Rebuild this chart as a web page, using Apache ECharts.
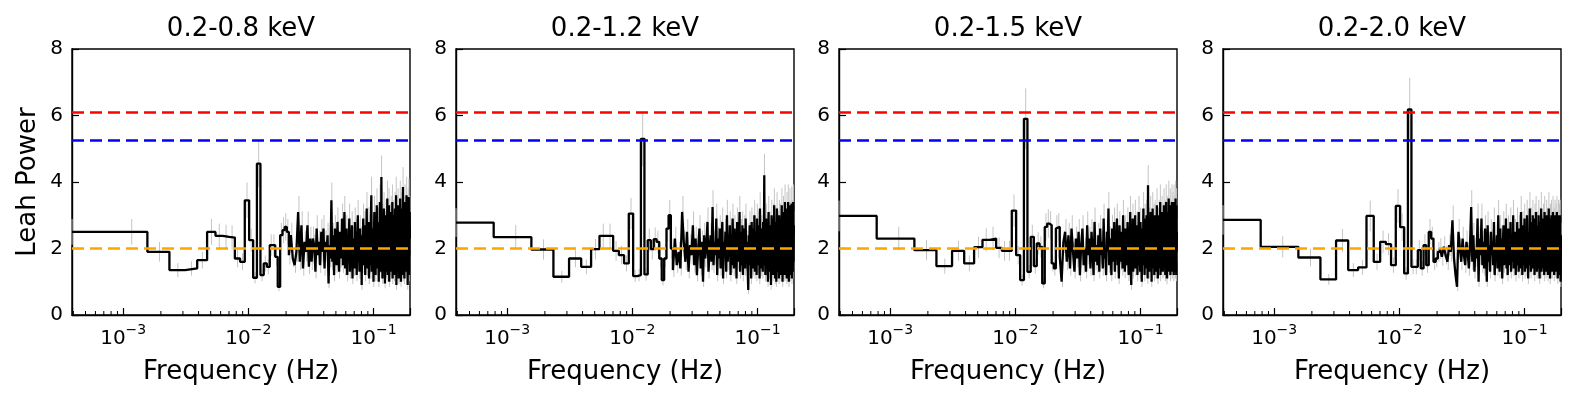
<!DOCTYPE html>
<html>
<head>
<meta charset="utf-8">
<script src="https://cdn.jsdelivr.net/npm/echarts@6/dist/echarts.min.js"></script>
<style>
  html, body { margin: 0; padding: 0; background: #fff; }
  #chart { width: 1577px; height: 398px; }
</style>
</head>
<body>
<div id="chart"></div>
<script>
"use strict";

// energy bands (one panel each)
var bands = ['0.2-0.8 keV', '0.2-1.2 keV', '0.2-1.5 keV', '0.2-2.0 keV'];

// Leahy power per frequency bin, bin k sits at (k + 0.5) * df
var power08 = [
  2.5, 2.5, 1.9, 1.35, 1.4, 1.65, 2.5, 2.38, 2.35, 2.33,
  1.7, 1.6, 3.45, 2.25, 1.12, 4.55, 1.2, 1.55, 1.45, 2.1,
  2.1, 1.75, 0.85, 2.4, 2.55, 2.65, 2.5, 1.8, 2.4, 1.7,
  1.5, 1.9, 3.1, 1.6, 2.7, 1.4, 2.2, 1.9, 2.7, 1.45,
  2.3, 1.6, 2.3, 2.1, 1.3, 2.6, 1.8, 2.2, 1.5, 2.5,
  1.9, 2.6, 1.4, 2.2, 1.9, 2.4, 0.95, 2.1, 1.7, 3.45,
  1.6, 2.4, 1.2, 2.6, 2.0, 1.5, 2.8, 1.9, 1.3, 2.5,
  2.2, 1.7, 2.9, 1.5, 2.3, 3.1, 1.4, 2.0, 2.6, 1.2,
  2.4, 1.8, 2.9, 1.3, 2.2, 1.6, 2.7, 1.1, 2.3, 2.0,
  1.4, 2.8, 1.9, 2.5, 1.2, 2.1, 3.0, 1.6, 2.2, 1.3,
  2.6, 1.8, 2.3, 0.9, 2.4, 1.7, 2.9, 1.5, 2.0, 2.7,
  1.2, 2.5, 1.9, 3.2, 1.4, 2.2, 1.6, 2.8, 1.1, 2.4,
  2.0, 1.5, 2.9, 3.6, 1.3, 2.3, 1.8, 2.6, 1.0, 2.2,
  3.1, 1.6, 2.4, 1.2, 2.7, 1.9, 3.3, 1.4, 2.1, 1.7,
  2.8, 1.0, 2.5, 1.8, 3.4, 1.5, 2.2, 1.3, 4.15, 1.7,
  2.6, 1.1, 2.9, 2.0, 1.4, 3.2, 1.6, 2.3, 0.95, 2.7,
  1.9, 3.0, 1.3, 2.4, 1.7, 3.5, 1.2, 2.1, 2.6, 1.5,
  3.3, 1.0, 2.2, 1.8, 2.9, 1.4, 2.5, 3.1, 1.3, 2.0,
  1.6, 3.4, 1.1, 2.3, 2.7, 1.5, 3.0, 1.9, 1.2, 2.6,
  3.2, 1.4, 2.1, 1.7, 3.6, 0.9, 2.4, 1.8, 2.8, 1.3,
  2.2, 3.3, 1.5, 2.6, 1.1, 3.0, 1.9, 2.3, 1.4, 3.5,
  1.7, 2.5, 1.0, 2.9, 2.1, 1.5, 3.2, 1.3, 2.4, 1.8,
  3.85, 1.2, 2.7, 1.6, 3.1, 2.0, 1.1, 2.6, 3.4, 1.5,
  2.2, 1.8, 3.0, 1.3, 2.5, 3.6, 1.4, 2.1, 1.7, 2.9,
  0.9, 2.4, 3.3, 1.6, 2.0, 3.55, 1.2, 2.7, 1.8, 3.1,
  2.3
];
var power12 = [
  2.78, 2.34, 1.97, 1.15, 1.7, 1.45, 1.98, 2.38, 2.38, 1.93,
  1.8, 1.55, 3.05, 1.17, 1.2, 5.3, 1.22, 2.25, 1.98, 2.28,
  2.2, 1.7, 1.05, 1.7, 2.6, 3.0, 2.0, 1.35, 2.3, 1.5,
  1.9, 1.4, 3.1, 2.2, 1.6, 2.5, 1.3, 2.1, 1.8, 2.7,
  1.5, 2.3, 1.2, 2.0, 2.6, 1.4, 2.2, 1.0, 2.4, 1.7,
  2.1, 2.8, 1.3, 1.9, 2.4, 1.6, 3.25, 1.5, 2.2, 1.8,
  2.9, 1.2, 2.3, 1.7, 2.6, 1.4, 2.0, 2.8, 1.1, 2.2,
  1.8, 2.5, 1.3, 3.0, 1.6, 2.1, 1.9, 2.7, 1.2, 2.4,
  1.5, 2.9, 2.0, 1.4, 2.6, 1.8, 2.2, 1.1, 2.8, 1.6,
  2.3, 1.9, 3.1, 1.3, 2.0, 2.5, 1.5, 2.7, 1.2, 2.1,
  1.8, 2.6, 1.4, 2.9, 1.6, 2.2, 1.9, 1.3, 0.75, 2.4,
  2.0, 2.7, 1.5, 2.3, 1.1, 2.8, 1.7, 2.1, 1.4, 2.6,
  1.9, 3.0, 1.3, 2.2, 1.6, 2.5, 1.2, 2.9, 1.8, 2.0,
  1.5, 2.7, 2.3, 1.1, 3.2, 1.7, 2.0, 1.4, 2.6, 1.9,
  2.4, 1.3, 2.8, 1.6, 2.2, 4.2, 1.5, 2.5, 1.2, 2.0,
  2.9, 1.4, 2.1, 1.8, 2.6, 1.0, 2.3, 3.1, 1.6, 2.0,
  1.3, 2.7, 1.9, 2.4, 0.9, 2.2, 3.0, 1.5, 1.8, 2.5,
  1.2, 2.9, 2.0, 1.6, 3.3, 1.4, 2.3, 1.1, 2.6, 1.9,
  2.8, 1.0, 2.1, 3.2, 1.5, 2.4, 1.3, 2.7, 1.8, 2.2,
  1.1, 3.0, 1.7, 2.5, 1.4, 2.9, 1.9, 1.2, 2.6, 2.0,
  3.3, 1.5, 2.2, 1.0, 2.8, 1.7, 3.1, 1.3, 2.4, 1.9,
  2.6, 1.2, 3.4, 1.6, 2.1, 1.4, 2.9, 1.8, 2.3, 1.1,
  3.2, 1.5, 2.7, 1.9, 1.2, 3.4, 1.6, 2.2, 1.0, 2.8,
  2.0, 1.4, 3.3, 1.7, 2.5, 1.2, 3.0, 1.8, 2.3, 1.5,
  3.35, 1.1, 2.6, 1.9, 3.0, 1.3, 2.4, 3.4, 1.6, 2.1,
  2.7
];
var power15 = [
  2.98, 2.3, 1.95, 1.47, 1.93, 1.55, 2.04, 2.26, 2.3, 2.02,
  1.93, 1.93, 3.14, 1.8, 1.05, 5.9, 1.3, 2.35, 1.47, 2.15,
  2.05, 0.95, 2.65, 2.75, 2.7, 1.55, 1.4, 2.6, 2.65, 1.75,
  1.0, 2.2, 2.5, 1.6, 2.4, 1.4, 2.6, 1.9, 1.3, 2.3,
  1.7, 2.5, 1.2, 2.1, 2.6, 1.5, 2.0, 1.3, 2.7, 1.8,
  2.3, 1.4, 2.5, 1.9, 1.2, 2.8, 1.6, 2.1, 1.5, 2.4,
  1.3, 2.6, 1.8, 2.2, 1.4, 2.9, 1.7, 2.0, 1.2, 2.5,
  1.9, 3.2, 1.5, 2.3, 1.8, 1.2, 2.6, 2.0, 1.6, 2.8,
  1.3, 2.4, 1.9, 2.9, 1.5, 2.2, 1.1, 2.7, 1.8, 2.3,
  1.6, 2.5, 1.4, 3.0, 1.9, 2.1, 1.3, 2.6, 1.7, 2.4,
  1.5, 2.8, 2.0, 1.2, 2.5, 1.8, 3.1, 1.4, 0.9, 2.3,
  1.7, 2.9, 1.3, 2.4, 2.0, 1.6, 3.0, 1.4, 2.2, 1.8,
  2.7, 1.2, 2.5, 1.9, 3.1, 1.5, 2.1, 1.3, 2.8, 1.7,
  2.3, 1.0, 2.6, 2.0, 1.5, 3.2, 1.8, 2.4, 1.2, 2.9,
  1.6, 2.2, 1.4, 3.0, 1.9, 2.5, 1.1, 3.9, 1.7, 2.3,
  1.3, 2.8, 2.0, 1.5, 3.1, 1.8, 2.4, 1.0, 2.6, 1.9,
  3.2, 1.4, 2.2, 1.7, 2.9, 1.2, 2.5, 3.0, 1.6, 2.1,
  1.3, 2.7, 1.9, 3.3, 1.5, 2.3, 1.1, 2.8, 2.0, 1.6,
  3.0, 1.4, 2.4, 1.8, 3.4, 1.2, 2.6, 1.9, 2.2, 1.5,
  3.1, 1.7, 2.5, 1.3, 2.9, 2.0, 1.6, 3.3, 1.4, 2.3,
  1.9, 3.0, 1.2, 2.6, 1.8, 3.4, 1.5, 2.2, 1.1, 2.8,
  2.0, 3.1, 1.6, 2.4, 1.3, 3.5, 1.8, 2.1, 1.4, 2.9,
  1.7, 3.3, 1.2, 2.5, 1.9, 3.0, 1.5, 2.3, 3.4, 1.3,
  2.6, 1.8, 3.2, 1.4, 2.1, 2.8, 1.2, 3.4, 1.7, 2.4,
  1.5, 3.1, 2.0, 1.3, 3.5, 1.8, 2.6, 1.2, 3.3, 1.9,
  2.5
];
var power20 = [
  2.86, 2.05, 1.73, 1.07, 2.24, 1.35, 1.43, 2.98, 1.6, 2.2,
  2.13, 1.5, 3.28, 2.64, 1.25, 6.18, 1.45, 1.45, 1.95, 1.4,
  2.1, 1.5, 2.5, 2.3, 1.6, 1.7, 1.9, 2.0, 1.75, 2.05,
  1.8, 1.6, 2.1, 1.9, 2.85, 1.7, 1.2, 0.85, 2.5, 2.0,
  1.6, 2.3, 1.8, 1.5, 2.2, 1.9, 1.4, 2.1, 3.25, 1.6,
  2.4, 1.3, 2.0, 1.7, 2.9, 1.0, 2.3, 1.8, 2.9, 1.5,
  2.2, 1.4, 2.6, 1.9, 1.0, 2.7, 1.6, 2.1, 1.3, 2.5,
  1.8, 2.2, 1.5, 2.8, 1.2, 2.0, 1.7, 2.4, 1.4, 3.0,
  1.9, 1.3, 2.6, 1.6, 2.3, 1.1, 2.1, 2.7, 1.5, 2.0,
  1.7, 2.9, 1.4, 2.2, 1.2, 2.6, 1.8, 2.0, 1.5, 2.8,
  1.3, 2.4, 1.9, 1.6, 3.0, 1.4, 2.1, 1.8, 2.5, 1.2,
  2.3, 1.7, 2.8, 1.5, 2.0, 1.3, 2.6, 1.9, 2.2, 1.4,
  3.1, 1.6, 2.4, 1.2, 2.7, 1.8, 2.0, 1.5, 2.9, 1.3,
  2.2, 1.9, 2.6, 1.4, 3.0, 1.7, 2.3, 1.1, 2.5, 1.8,
  2.0, 3.2, 1.5, 2.4, 1.3, 2.8, 1.9, 2.1, 1.6, 3.0,
  1.4, 2.5, 1.8, 2.2, 1.2, 2.9, 1.7, 2.0, 3.1, 1.5,
  2.3, 1.3, 2.7, 1.9, 2.1, 1.4, 3.0, 1.6, 2.4, 1.1,
  2.8, 1.8, 2.2, 1.5, 3.2, 1.3, 2.0, 2.6, 1.7, 2.3,
  1.4, 2.9, 1.9, 2.1, 1.2, 3.1, 1.6, 2.4, 1.8, 2.7,
  1.3, 2.2, 3.0, 1.5, 2.0, 1.7, 2.8, 1.2, 2.5, 1.9,
  3.2, 1.4, 2.3, 1.8, 2.6, 1.1, 2.9, 1.6, 2.1, 1.5,
  3.0, 1.9, 2.4, 1.3, 2.7, 1.7, 3.1, 1.5, 2.2, 1.8,
  2.8, 1.2, 2.5, 1.9, 3.0, 1.4, 2.1, 1.7, 2.9, 1.3,
  2.4, 1.8, 3.1, 1.5, 2.2, 2.7, 1.1, 2.6, 1.9, 3.0,
  1.4, 2.3, 1.7, 2.9, 1.2, 2.5, 3.0, 1.6, 2.1, 1.0,
  2.4
];
var powers = [power08, power12, power15, power20];

var df = 7.8e-4;           // frequency resolution (Hz)
var relErr = 0.155;        // 1-sigma error bar as a fraction of the power

// significance levels: 3 sigma, 2 sigma, noise level
var levels = [6.11, 5.27, 2.0];
var levelColors = ['#ff0000', '#0000ff', '#ffa500'];

var yTicks = [0, 2, 4, 6, 8];
var minorTicks = [
  4e-4, 5e-4, 6e-4, 7e-4, 8e-4, 9e-4,
  2e-3, 3e-3, 4e-3, 5e-3, 6e-3, 7e-3, 8e-3, 9e-3,
  2e-2, 3e-2, 4e-2, 5e-2, 6e-2, 7e-2, 8e-2, 9e-2
];

var FONT = 'DejaVu Sans';
var gridLeft = [72, 456, 839, 1223];
var gridTop = 49, gridW = 338, gridH = 266;

function freq(k) { return (k + 0.5) * df; }

// matplotlib-like steps-mid: level changes halfway between bins
function stepPoints(vals) {
  var pts = [];
  var n = vals.length;
  for (var k = 0; k < n; k++) {
    var lo = k === 0 ? freq(0) : k * df;
    var hi = k === n - 1 ? freq(n - 1) : (k + 1) * df;
    pts.push([lo, vals[k]], [hi, vals[k]]);
  }
  return pts;
}

function supLabel(v) {
  var lg = Math.log10(v);
  var e = Math.round(lg);
  if (Math.abs(lg - e) > 1e-6) return '';
  return '{b|10}{s|\u2212' + Math.abs(e) + '}';
}

var chart = echarts.init(document.getElementById('chart'));

var grids = [], xAxes = [], yAxes = [], titles = [], series = [];

bands.forEach(function (band, i) {
  var vals = powers[i];
  var n = vals.length;

  grids.push({
    left: gridLeft[i], top: gridTop, width: gridW, height: gridH,
    show: true, borderColor: '#000', borderWidth: 1.4, backgroundColor: 'transparent'
  });

  titles.push({
    text: band,
    left: gridLeft[i] + gridW / 2,
    top: 16,
    textAlign: 'center',
    padding: 0,
    textStyle: { fontFamily: FONT, fontSize: 26, fontWeight: 'normal', color: '#000' }
  });

  xAxes.push({
    type: 'log', logBase: 10, gridIndex: i,
    min: freq(0), max: freq(n - 1),
    name: 'Frequency (Hz)', nameLocation: 'middle', nameGap: 44,
    nameTextStyle: { fontFamily: FONT, fontSize: 26, color: '#000' },
    axisLine: { show: true, lineStyle: { color: '#000', width: 1.4 } },
    axisTick: { show: true, inside: true, length: 7, lineStyle: { color: '#000', width: 1.2 } },
    splitLine: { show: false },
    axisLabel: {
      margin: 8, color: '#000', fontFamily: FONT,
      formatter: supLabel,
      rich: {
        b: { fontFamily: FONT, fontSize: 20, color: '#000', lineHeight: 26, verticalAlign: 'bottom' },
        s: { fontFamily: FONT, fontSize: 14, color: '#000', lineHeight: 15, verticalAlign: 'top' }
      }
    }
  });

  yAxes.push({
    type: 'value', gridIndex: i,
    min: yTicks[0], max: yTicks[yTicks.length - 1], interval: 2,
    name: i === 0 ? 'Leah Power' : '',
    nameLocation: 'middle', nameGap: 31,
    nameTextStyle: { fontFamily: FONT, fontSize: 26, color: '#000' },
    axisLine: { show: true, lineStyle: { color: '#000', width: 1.4 } },
    axisTick: { show: true, inside: true, length: 7, lineStyle: { color: '#000', width: 1.2 } },
    splitLine: { show: false },
    axisLabel: { margin: 9, fontFamily: FONT, fontSize: 20, color: '#000' }
  });

  // dashed significance levels
  series.push({
    type: 'line', xAxisIndex: i, yAxisIndex: i, data: [], z: 1,
    markLine: {
      silent: true, symbol: 'none', label: { show: false }, animation: false,
      data: levels.map(function (lv, j) {
        return { yAxis: lv, lineStyle: { color: levelColors[j], width: 2.5, type: [12, 6] } };
      })
    }
  });

  // error bars
  series.push({
    type: 'custom', xAxisIndex: i, yAxisIndex: i, z: 2, silent: true,
    data: vals.map(function (v, k) { return [freq(k), v, v * relErr]; }),
    encode: { x: 0, y: 1 },
    renderItem: function (params, api) {
      var a = api.coord([api.value(0), api.value(1) - api.value(2)]);
      var b = api.coord([api.value(0), api.value(1) + api.value(2)]);
      return {
        type: 'line',
        shape: { x1: a[0], y1: a[1], x2: b[0], y2: b[1] },
        style: { stroke: '#c4c4c4', lineWidth: 1 }
      };
    }
  });

  // the stepped power spectrum
  series.push({
    type: 'line', xAxisIndex: i, yAxisIndex: i, z: 3,
    data: stepPoints(vals),
    symbol: 'none', showSymbol: false, silent: true,
    lineStyle: { color: '#000', width: 2.3 }
  });

  // log minor ticks on the frequency axis
  series.push({
    type: 'custom', xAxisIndex: i, yAxisIndex: i, z: 4, silent: true,
    data: minorTicks.map(function (t) { return [t, 0]; }),
    encode: { x: 0, y: 1 },
    renderItem: function (params, api) {
      var p = api.coord([api.value(0), 0]);
      return {
        type: 'line',
        shape: { x1: p[0], y1: p[1], x2: p[0], y2: p[1] - 4 },
        style: { stroke: '#000', lineWidth: 1 }
      };
    }
  });
});

chart.setOption({
  animation: false,
  backgroundColor: '#fff',
  title: titles,
  grid: grids,
  xAxis: xAxes,
  yAxis: yAxes,
  series: series
});
</script>
</body>
</html>
